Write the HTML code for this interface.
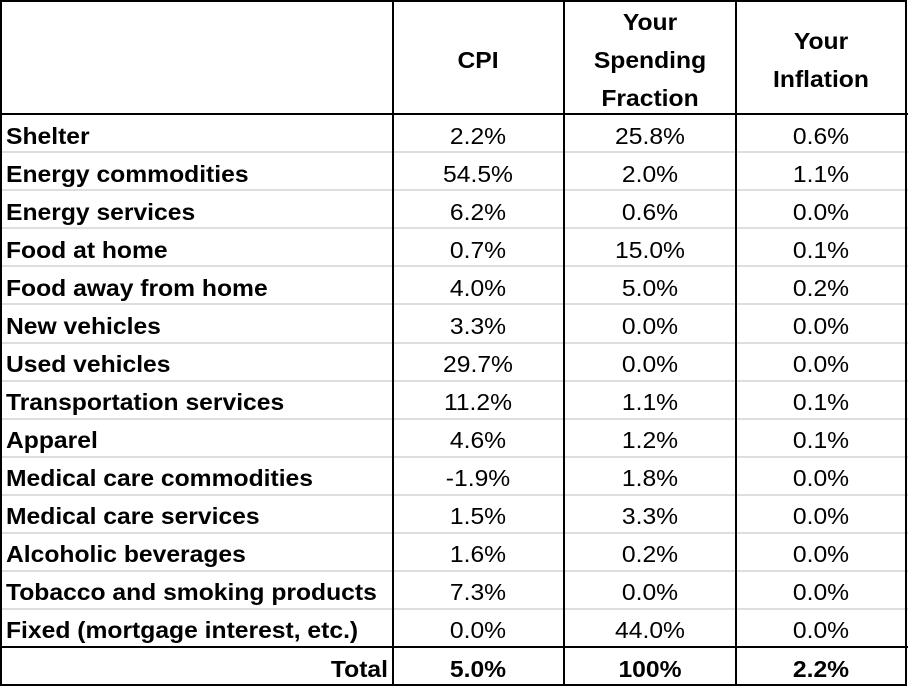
<!DOCTYPE html>
<html><head><style>
html,body{margin:0;padding:0;background:#fff;}
svg{display:block;}
text{font-family:"Liberation Sans",sans-serif;font-size:23.5px;fill:#000;}
.b{font-weight:bold;}
</style></head><body>
<svg width="910" height="688" xmlns="http://www.w3.org/2000/svg">
<g stroke="#d4d4d4" stroke-width="1.5">
<line x1="0" x2="908" y1="152" y2="152"/><line x1="0" x2="908" y1="190" y2="190"/>
<line x1="0" x2="908" y1="228" y2="228"/><line x1="0" x2="908" y1="266" y2="266"/>
<line x1="0" x2="908" y1="304" y2="304"/><line x1="0" x2="908" y1="343" y2="343"/>
<line x1="0" x2="908" y1="381" y2="381"/><line x1="0" x2="908" y1="419" y2="419"/>
<line x1="0" x2="908" y1="457" y2="457"/><line x1="0" x2="908" y1="495" y2="495"/>
<line x1="0" x2="908" y1="533" y2="533"/><line x1="0" x2="908" y1="571" y2="571"/>
<line x1="0" x2="908" y1="609" y2="609"/>
</g>
<g stroke="#000" stroke-width="2" fill="none">
<rect x="1" y="1" width="905" height="684"/>
<line x1="0" x2="908" y1="114" y2="114"/>
<line x1="0" x2="908" y1="647" y2="647"/>
<line x1="393" x2="393" y1="0" y2="686"/>
<line x1="564" x2="564" y1="0" y2="686"/>
<line x1="736" x2="736" y1="0" y2="686"/>
</g>
<text transform="translate(478,68) scale(1.05,1)" text-anchor="middle" class="b">CPI</text>
<text transform="translate(650,30) scale(1.05,1)" text-anchor="middle" class="b">Your</text>
<text transform="translate(650,68) scale(1.05,1)" text-anchor="middle" class="b">Spending</text>
<text transform="translate(650,106) scale(1.05,1)" text-anchor="middle" class="b">Fraction</text>
<text transform="translate(821,49) scale(1.05,1)" text-anchor="middle" class="b">Your</text>
<text transform="translate(821,87) scale(1.05,1)" text-anchor="middle" class="b">Inflation</text>
<text transform="translate(388,677) scale(1.05,1)" text-anchor="end" class="b">Total</text>
<text transform="translate(478,677) scale(1.05,1)" text-anchor="middle" class="b">5.0%</text>
<text transform="translate(650,677) scale(1.05,1)" text-anchor="middle" class="b">100%</text>
<text transform="translate(821,677) scale(1.05,1)" text-anchor="middle" class="b">2.2%</text>
<text transform="translate(6,144) scale(1.05,1)" class="b">Shelter</text><text transform="translate(478,144) scale(1.05,1)" text-anchor="middle">2.2%</text><text transform="translate(650,144) scale(1.05,1)" text-anchor="middle">25.8%</text><text transform="translate(821,144) scale(1.05,1)" text-anchor="middle">0.6%</text>
<text transform="translate(6,182) scale(1.05,1)" class="b">Energy commodities</text><text transform="translate(478,182) scale(1.05,1)" text-anchor="middle">54.5%</text><text transform="translate(650,182) scale(1.05,1)" text-anchor="middle">2.0%</text><text transform="translate(821,182) scale(1.05,1)" text-anchor="middle">1.1%</text>
<text transform="translate(6,220) scale(1.05,1)" class="b">Energy services</text><text transform="translate(478,220) scale(1.05,1)" text-anchor="middle">6.2%</text><text transform="translate(650,220) scale(1.05,1)" text-anchor="middle">0.6%</text><text transform="translate(821,220) scale(1.05,1)" text-anchor="middle">0.0%</text>
<text transform="translate(6,258) scale(1.05,1)" class="b">Food at home</text><text transform="translate(478,258) scale(1.05,1)" text-anchor="middle">0.7%</text><text transform="translate(650,258) scale(1.05,1)" text-anchor="middle">15.0%</text><text transform="translate(821,258) scale(1.05,1)" text-anchor="middle">0.1%</text>
<text transform="translate(6,296) scale(1.05,1)" class="b">Food away from home</text><text transform="translate(478,296) scale(1.05,1)" text-anchor="middle">4.0%</text><text transform="translate(650,296) scale(1.05,1)" text-anchor="middle">5.0%</text><text transform="translate(821,296) scale(1.05,1)" text-anchor="middle">0.2%</text>
<text transform="translate(6,334) scale(1.05,1)" class="b">New vehicles</text><text transform="translate(478,334) scale(1.05,1)" text-anchor="middle">3.3%</text><text transform="translate(650,334) scale(1.05,1)" text-anchor="middle">0.0%</text><text transform="translate(821,334) scale(1.05,1)" text-anchor="middle">0.0%</text>
<text transform="translate(6,372) scale(1.05,1)" class="b">Used vehicles</text><text transform="translate(478,372) scale(1.05,1)" text-anchor="middle">29.7%</text><text transform="translate(650,372) scale(1.05,1)" text-anchor="middle">0.0%</text><text transform="translate(821,372) scale(1.05,1)" text-anchor="middle">0.0%</text>
<text transform="translate(6,410) scale(1.05,1)" class="b">Transportation services</text><text transform="translate(478,410) scale(1.05,1)" text-anchor="middle">11.2%</text><text transform="translate(650,410) scale(1.05,1)" text-anchor="middle">1.1%</text><text transform="translate(821,410) scale(1.05,1)" text-anchor="middle">0.1%</text>
<text transform="translate(6,448) scale(1.05,1)" class="b">Apparel</text><text transform="translate(478,448) scale(1.05,1)" text-anchor="middle">4.6%</text><text transform="translate(650,448) scale(1.05,1)" text-anchor="middle">1.2%</text><text transform="translate(821,448) scale(1.05,1)" text-anchor="middle">0.1%</text>
<text transform="translate(6,486) scale(1.05,1)" class="b">Medical care commodities</text><text transform="translate(478,486) scale(1.05,1)" text-anchor="middle">-1.9%</text><text transform="translate(650,486) scale(1.05,1)" text-anchor="middle">1.8%</text><text transform="translate(821,486) scale(1.05,1)" text-anchor="middle">0.0%</text>
<text transform="translate(6,524) scale(1.05,1)" class="b">Medical care services</text><text transform="translate(478,524) scale(1.05,1)" text-anchor="middle">1.5%</text><text transform="translate(650,524) scale(1.05,1)" text-anchor="middle">3.3%</text><text transform="translate(821,524) scale(1.05,1)" text-anchor="middle">0.0%</text>
<text transform="translate(6,562) scale(1.05,1)" class="b">Alcoholic beverages</text><text transform="translate(478,562) scale(1.05,1)" text-anchor="middle">1.6%</text><text transform="translate(650,562) scale(1.05,1)" text-anchor="middle">0.2%</text><text transform="translate(821,562) scale(1.05,1)" text-anchor="middle">0.0%</text>
<text transform="translate(6,600) scale(1.05,1)" class="b">Tobacco and smoking products</text><text transform="translate(478,600) scale(1.05,1)" text-anchor="middle">7.3%</text><text transform="translate(650,600) scale(1.05,1)" text-anchor="middle">0.0%</text><text transform="translate(821,600) scale(1.05,1)" text-anchor="middle">0.0%</text>
<text transform="translate(6,638) scale(1.05,1)" class="b">Fixed (mortgage interest, etc.)</text><text transform="translate(478,638) scale(1.05,1)" text-anchor="middle">0.0%</text><text transform="translate(650,638) scale(1.05,1)" text-anchor="middle">44.0%</text><text transform="translate(821,638) scale(1.05,1)" text-anchor="middle">0.0%</text>
</svg>
</body></html>
